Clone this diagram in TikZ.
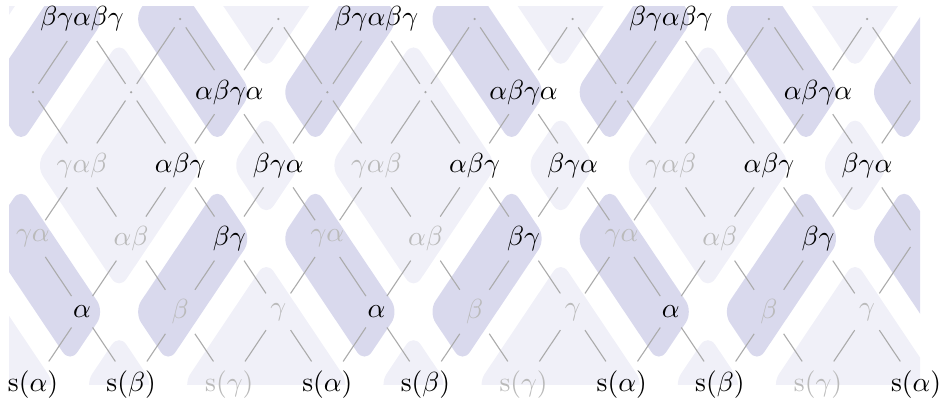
\documentclass[tikz,border=0pt]{standalone}
\definecolor{darkcell}{RGB}{217,217,237}
\definecolor{lightcell}{RGB}{240,240,248}
\tikzset{
  lab/.style={inner sep=3.33pt},
  blk/.style={lab,text=black},
  gry/.style={lab,text=black!27},
  dotn/.style={circle,inner sep=0pt,minimum size=0.9pt,outer sep=3.2pt,fill=black!35},
  ghost/.style={circle,inner sep=0pt,minimum size=0.9pt,outer sep=3.2pt},
  edgeln/.style={draw=black!33,line width=0.4pt},
  dcell/.style={fill=darkcell,rounded corners=4.8pt},
  lcell/.style={fill=lightcell,rounded corners=4.8pt}
}
\begin{document}
\begin{tikzpicture}[x=17.775pt,y=26.52pt]
\useasboundingbox (-0.6726,-0.2732) rectangle (18.569,5.2596);
% cells
\begin{scope}
\clip (-0.489,0) rectangle (18.08,5.164);
\begin{scope}[xshift=-4.35pt]
\foreach \o in {-6,0,6,12,18} {
  % dark bands
  \fill[dcell] (\o-0.7,4) -- (\o,3.3) -- (\o+1.7,5) -- (\o+1,5.7) -- cycle;
  \fill[dcell] (\o+2.3,5) -- (\o+3,5.7) -- (\o+4.7,4) -- (\o+4,3.3) -- cycle;
  \fill[dcell] (\o-0.7,2) -- (\o,2.7) -- (\o+1.7,1) -- (\o+1,0.3) -- cycle;
  \fill[dcell] (\o+2.3,1) -- (\o+3,0.3) -- (\o+4.7,2) -- (\o+4,2.7) -- cycle;
  % light cells
  \fill[lcell] (\o+0.3,3) -- (\o+2,4.7) -- (\o+3.7,3) -- (\o+2,1.3) -- cycle;
  \fill[lcell] (\o+4.3,3) -- (\o+5,3.7) -- (\o+5.7,3) -- (\o+5,2.3) -- cycle;
  \fill[lcell] (\o+3.3,6) -- (\o+5,7.7) -- (\o+6.7,6) -- (\o+5,4.3) -- cycle;
  \fill[lcell] (\o+3.3,0) -- (\o+5,1.7) -- (\o+6.7,0) -- (\o+5,-1.7) -- cycle;
  \fill[lcell] (\o+1.3,0) -- (\o+2,0.7) -- (\o+2.7,0) -- (\o+2,-0.7) -- cycle;
}
\end{scope}
\end{scope}
% nodes
\foreach \o in {0,6,12} {
  \pgfmathtruncatemacro\ia{\o}
  \pgfmathtruncatemacro\ib{\o+1}
  \pgfmathtruncatemacro\ic{\o+2}
  \pgfmathtruncatemacro\id{\o+3}
  \pgfmathtruncatemacro\ie{\o+4}
  \pgfmathtruncatemacro\iF{\o+5}
  \node[blk] (n-\ia-0) at (\ia,0) {$\mathrm{s}(\alpha)$};
  \node[blk] (n-\ic-0) at (\ic,0) {$\mathrm{s}(\beta)$};
  \node[gry] (n-\ie-0) at (\ie,0) {$\mathrm{s}(\gamma)$};
  \node[blk] (n-\ib-1) at (\ib,1) {$\alpha$};
  \node[gry] (n-\id-1) at (\id,1) {$\beta$};
  \node[gry] (n-\iF-1) at (\iF,1) {$\gamma$};
  \node[gry] (n-\ia-2) at (\ia,2) {$\gamma\alpha$};
  \node[gry] (n-\ic-2) at (\ic,2) {$\alpha\beta$};
  \node[blk] (n-\ie-2) at (\ie,2) {$\beta\gamma$};
  \node[gry] (n-\ib-3) at (\ib,3) {$\gamma\alpha\beta$};
  \node[blk] (n-\id-3) at (\id,3) {$\alpha\beta\gamma$};
  \node[blk] (n-\iF-3) at (\iF,3) {$\beta\gamma\alpha$};
  \node[dotn] (n-\ia-4) at (\ia,4) {};
  \node[dotn] (n-\ic-4) at (\ic,4) {};
  \node[blk] (n-\ie-4) at (\ie,4) {$\alpha\beta\gamma\alpha$};
  \node[blk] (n-\ib-5) at (\ib,5) {$\beta\gamma\alpha\beta\gamma$};
  \node[dotn] (n-\id-5) at (\id,5) {};
  \node[dotn] (n-\iF-5) at (\iF,5) {};
}
\node[blk] (n-18-0) at (18,0) {$\mathrm{s}(\alpha)$};
\node[ghost] (n-18-2) at (18,2) {};
\node[ghost] (n-18-4) at (18,4) {};
% edges
\foreach \j in {1,...,5} {
  \pgfmathtruncatemacro\jm{\j-1}
  \pgfmathtruncatemacro\st{mod(\j,2)}
  \pgfmathtruncatemacro\sn{\st+2}
  \foreach \i in {\st,\sn,...,18} {
    \pgfmathtruncatemacro\il{\i-1}
    \pgfmathtruncatemacro\ir{\i+1}
    \ifnum\i>0 \draw[edgeln] (n-\i-\j) -- (n-\il-\jm); \fi
    \ifnum\i<18 \draw[edgeln] (n-\i-\j) -- (n-\ir-\jm); \fi
  }
}
\end{tikzpicture}
\end{document}
